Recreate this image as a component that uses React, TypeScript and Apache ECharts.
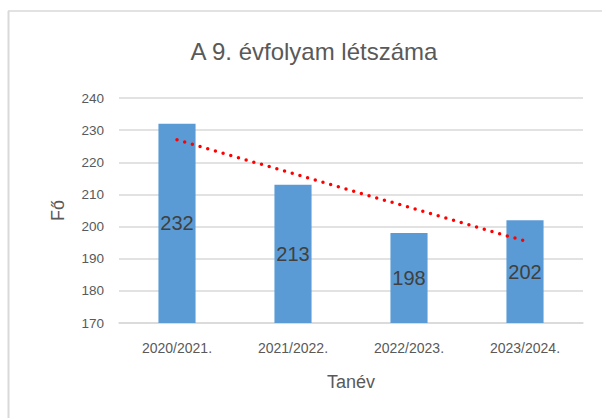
import React, { useEffect, useRef } from "react";
import * as echarts from "echarts";

const categories = ["2020/2021.", "2021/2022.", "2022/2023.", "2023/2024."];
const values = [232, 213, 198, 202];
// Linear trend line end points (first and last category)
const trendValues = [227, null, null, 195.5];
const yMin = 170;
const yMax = 240;
const yStep = 10;

const FONT = "'Liberation Sans', 'DejaVu Sans', sans-serif";

export default function App() {
  const ref = useRef<HTMLDivElement>(null);
  useEffect(() => {
    if (!ref.current) return;
    const chart = echarts.init(ref.current, undefined, { renderer: "svg" });
    chart.setOption({
      animation: false,
      backgroundColor: "#ffffff",
      textStyle: { fontFamily: FONT },
      title: {
        text: "A 9. évfolyam létszáma",
        left: 309,
        top: 34,
        textAlign: "center",
        textStyle: { fontFamily: FONT, fontSize: 24, fontWeight: "normal", color: "#595959" },
      },
      graphic: [
        { type: "line", shape: { x1: 8, y1: 11, x2: 602, y2: 11 }, style: { stroke: "#d9d9d9", lineWidth: 1.5 } },
        { type: "line", shape: { x1: 8.5, y1: 11, x2: 8.5, y2: 418 }, style: { stroke: "#d9d9d9", lineWidth: 2 } },
      ],
      grid: { left: 119, right: 19, top: 98, bottom: 95, containLabel: false },
      xAxis: {
        type: "category",
        data: categories,
        name: "Tanév",
        nameLocation: "middle",
        nameGap: 50,
        nameTextStyle: { fontFamily: FONT, fontSize: 18, color: "#595959" },
        axisLine: { show: true, lineStyle: { color: "#d9d9d9", width: 1.5 } },
        axisTick: { show: false },
        axisLabel: { fontFamily: FONT, fontSize: 14, color: "#595959", margin: 18 },
      },
      yAxis: {
        type: "value",
        min: yMin,
        max: yMax,
        interval: yStep,
        name: "Fő",
        nameLocation: "middle",
        nameGap: 52,
        nameRotate: 90,
        nameTextStyle: { fontFamily: FONT, fontSize: 18, color: "#595959" },
        axisLine: { show: false },
        axisTick: { show: false },
        axisLabel: { fontFamily: FONT, fontSize: 13.5, color: "#595959", margin: 15 },
        splitLine: { lineStyle: { color: "#d9d9d9", width: 1.5 } },
      },
      series: [
        {
          type: "bar",
          data: values,
          barWidth: "32%",
          itemStyle: { color: "#5b9bd5" },
          label: {
            show: true,
            position: "inside",
            fontFamily: FONT,
            fontSize: 20,
            color: "#404040",
          },
        },
        {
          type: "line",
          data: trendValues,
          connectNulls: true,
          symbol: "none",
          silent: true,
          lineStyle: { color: "#ff0000", width: 3.5, type: [0, 8], cap: "round" },
          z: 5,
        },
      ],
    });
    return () => chart.dispose();
  }, []);
  return (
    <div
      ref={ref}
      style={{ position: "absolute", left: 0, top: 0, width: 602, height: 418 }}
    />
  );
}
